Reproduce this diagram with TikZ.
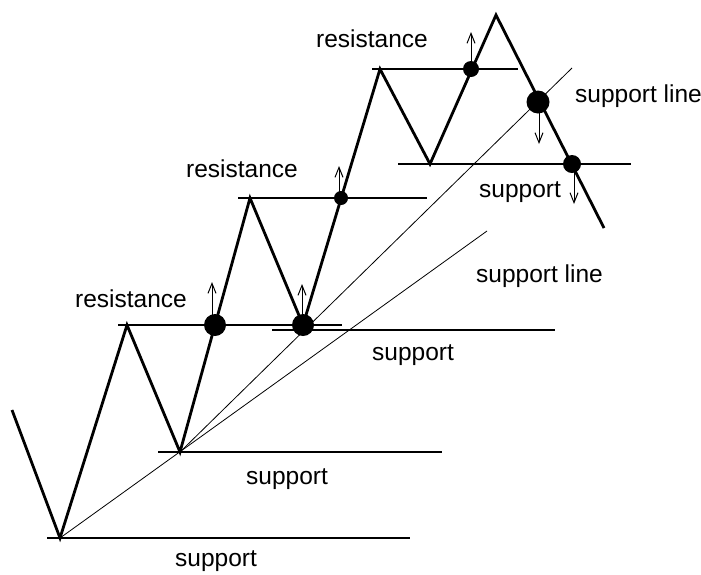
\documentclass[tikz,border=0pt]{standalone}
\usepackage{fontspec}
\setmainfont{Liberation Sans}
\usetikzlibrary{arrows.meta}
\begin{document}
\begin{tikzpicture}[x=1pt,y=-1pt,
  price/.style={line width=2.8pt,line join=miter},
  level/.style={line width=1.3pt},
  trend/.style={line width=0.8pt},
  hit/.style={circle,fill=black,inner sep=0pt},
  move/.style={line width=1pt,-{Straight Barb[length=10pt,width=8pt]}},
  lbl/.style={anchor=base west,inner sep=0pt,font=\fontsize{24.5}{26}\selectfont}]
\useasboundingbox (0,0) rectangle (701,574);

% turning points of the price path
\coordinate (p0) at (12,410);
\coordinate (p1) at (60,538);
\coordinate (p2) at (127,325);
\coordinate (p3) at (180,452);
\coordinate (p4) at (250,198);
\coordinate (p5) at (303,325);
\coordinate (p6) at (380,69);
\coordinate (p7) at (430,164);
\coordinate (p8) at (496,15);
\coordinate (p9) at (604,228);

% horizontal support / resistance levels
\coordinate (s1a) at (47,538);  \coordinate (s1b) at (410,538);
\coordinate (s2a) at (158,452); \coordinate (s2b) at (442,452);
\coordinate (r1a) at (118,325); \coordinate (r1b) at (342,325);
\coordinate (s3a) at (272,330); \coordinate (s3b) at (555,330);
\coordinate (r2a) at (238,198); \coordinate (r2b) at (427,198);
\coordinate (r3a) at (372,69);  \coordinate (r3b) at (518,69);
\coordinate (s4a) at (398,164); \coordinate (s4b) at (631,164);
\foreach \a/\b in {s1a/s1b,s2a/s2b,r1a/r1b,s3a/s3b,r2a/r2b,r3a/r3b,s4a/s4b}
  \draw[level] (\a) -- (\b);

% trend (support) lines
\coordinate (t1) at (487,231);
\coordinate (t2) at (572,68);
\draw[trend] (p1) -- (t1);
\draw[trend] (p3) -- (t2);

% price path
\draw[price] (p0) -- (p1) -- (p2) -- (p3) -- (p4) -- (p5) -- (p6) -- (p7) -- (p8) -- (p9);

% breakout points
\node[hit,minimum size=22pt] (d1) at (215,325) {};
\node[hit,minimum size=22pt] (d2) at (303,325) {};
\node[hit,minimum size=14pt] (d3) at (341,198) {};
\node[hit,minimum size=16pt] (d4) at (471,69) {};
\node[hit,minimum size=23pt] (d5) at (538,102) {};
\node[hit,minimum size=18pt] (d6) at (572,164) {};

% direction of the break
\coordinate (a1) at (212,282);
\coordinate (a2) at (302,284);
\coordinate (a3) at (339,166);
\coordinate (a4) at (471,32);
\coordinate (a5) at (539,144);
\coordinate (a6) at (574,204);
\draw[move] (212,318) -- (a1);
\draw[move] (302,318) -- (a2);
\draw[move] (339,194) -- (a3);
\draw[move] (471,62) -- (a4);
\draw[move] (539,110) -- (a5);
\draw[move] (574,170) -- (a6);

% labels
\node[lbl] (lr3) at (316,47) {resistance};
\node[lbl] (lr2) at (186,177) {resistance};
\node[lbl] (lr1) at (75,307) {resistance};
\node[lbl] (lt2) at (575,102) {support line};
\node[lbl] (lt1) at (476,282) {support line};
\node[lbl] (ls4) at (479,197) {support};
\node[lbl] (ls3) at (372,360) {support};
\node[lbl] (ls2) at (246,484) {support};
\node[lbl] (ls1) at (175,566) {support};
\end{tikzpicture}
\end{document}
